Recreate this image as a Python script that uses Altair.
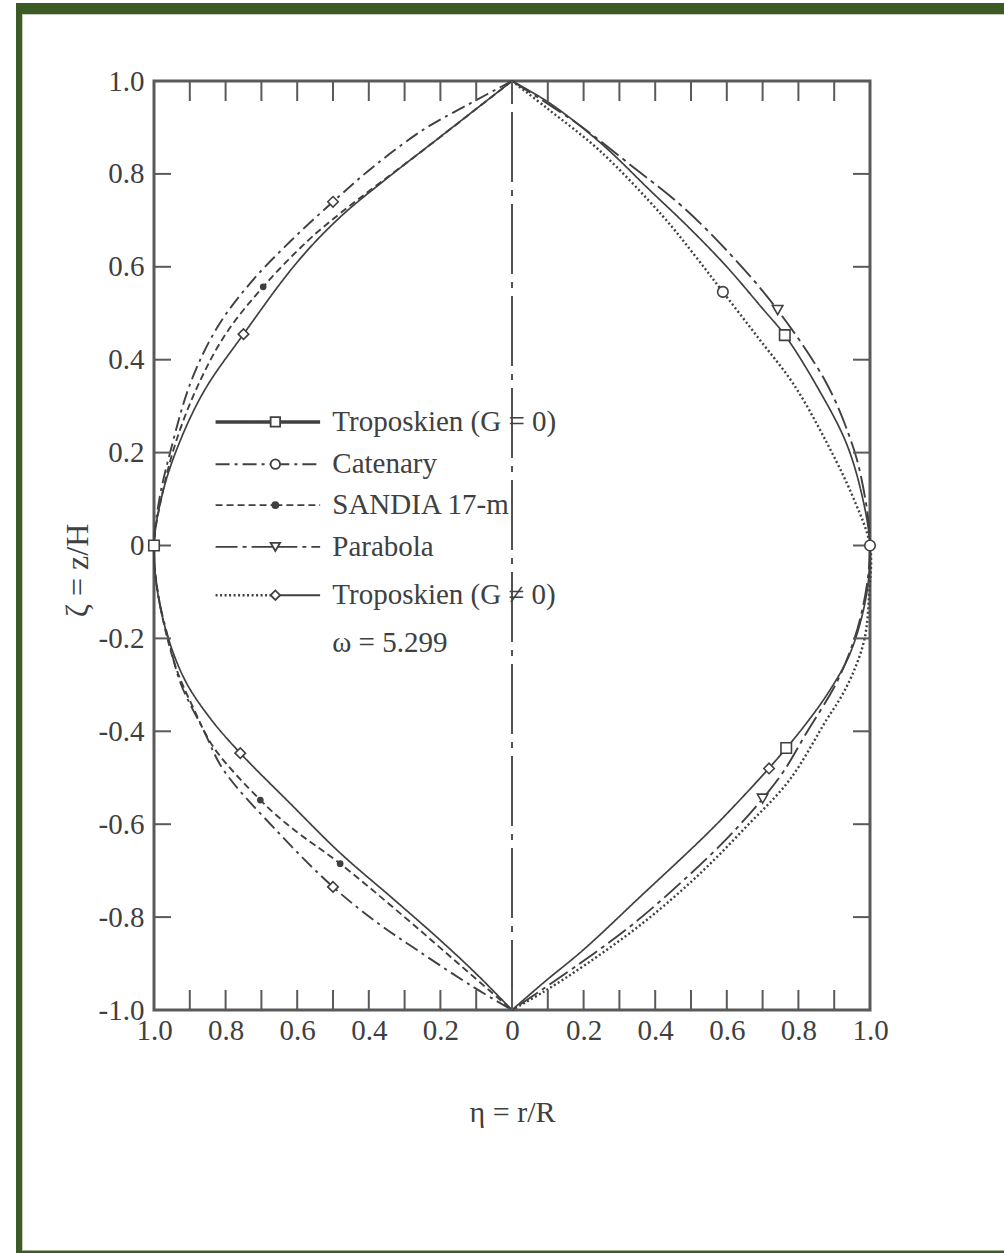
import altair as alt
import pandas as pd

FONT = "Liberation Serif"
INK = "#404040"
GREEN = "#3b5a24"

# ---------------- axis ticks / labels ----------------
x_label_values = [-1.0, -0.8, -0.6, -0.4, -0.2, 0.0, 0.2, 0.4, 0.6, 0.8, 1.0]
y_label_values = [-1.0, -0.8, -0.6, -0.4, -0.2, 0.0, 0.2, 0.4, 0.6, 0.8, 1.0]
x_minor_ticks = [-0.9, -0.8, -0.7, -0.6, -0.5, -0.4, -0.3, -0.2, -0.1, 0.0,
                 0.1, 0.2, 0.3, 0.4, 0.5, 0.6, 0.7, 0.8, 0.9]
y_side_ticks = [-0.8, -0.6, -0.4, -0.2, 0.0, 0.2, 0.4, 0.6, 0.8]

# ---------------- curves (eta signed: left half negative) ----------------
tropo0_left_eta = [0.0, -0.2, -0.35, -0.48, -0.6, -0.75, -0.862, -0.94, -0.98, -1.0,
                   -0.99, -0.96, -0.91, -0.84, -0.759, -0.62, -0.48, -0.33, -0.2, -0.1, 0.0]
tropo0_left_zeta = [1.0, 0.88, 0.79, 0.707, 0.61, 0.455, 0.33, 0.2, 0.1, 0.0,
                    -0.1, -0.2, -0.295, -0.375, -0.447, -0.555, -0.662, -0.762, -0.85, -0.922, -1.0]

tropo0_right_eta = [0.0, 0.106, 0.25, 0.385, 0.5, 0.6, 0.7, 0.762, 0.85, 0.934, 0.98, 1.0,
                    0.995, 0.975, 0.94, 0.885, 0.82, 0.74, 0.64, 0.543, 0.357, 0.2, 0.09, 0.0]
tropo0_right_zeta = [1.0, 0.952, 0.865, 0.765, 0.68, 0.6, 0.51, 0.453, 0.345, 0.22, 0.1, 0.0,
                     -0.08, -0.16, -0.24, -0.315, -0.385, -0.46, -0.545, -0.622, -0.757, -0.87, -0.94, -1.0]

catenary_left_eta = [0.0, -0.109, -0.248, -0.388, -0.5, -0.619, -0.731, -0.823, -0.898, -0.955,
                     -0.985, -1.0, -0.99, -0.96, -0.926, -0.86, -0.806, -0.65, -0.5, -0.38,
                     -0.265, -0.109, 0.0]
catenary_left_zeta = [1.0, 0.955, 0.895, 0.815, 0.74, 0.655, 0.565, 0.47, 0.35, 0.2,
                      0.1, 0.0, -0.1, -0.2, -0.296, -0.4, -0.483, -0.62, -0.735, -0.81,
                      -0.871, -0.95, -1.0]

sandia_left_eta = [0.0, -0.25, -0.48, -0.572, -0.695, -0.8, -0.88, -0.94, -0.98, -1.0,
                   -0.985, -0.94, -0.89, -0.834, -0.703, -0.619, -0.48, -0.3, -0.15, 0.0]
sandia_left_zeta = [1.0, 0.85, 0.715, 0.655, 0.557, 0.455, 0.34, 0.22, 0.1, 0.0,
                    -0.12, -0.26, -0.35, -0.434, -0.548, -0.606, -0.685, -0.8, -0.9, -1.0]

parabola_right_eta = [0.0, 0.181, 0.338, 0.477, 0.617, 0.742, 0.878, 0.943, 0.975, 1.0,
                      0.975, 0.915, 0.822, 0.748, 0.62, 0.48, 0.33, 0.18, 0.0]
parabola_right_zeta = [1.0, 0.909, 0.815, 0.729, 0.621, 0.507, 0.35, 0.234, 0.148, 0.0,
                       -0.15, -0.282, -0.404, -0.498, -0.615, -0.72, -0.82, -0.905, -1.0]

tropoG_right_eta = [0.0, 0.1, 0.245, 0.42, 0.51, 0.589, 0.69, 0.785, 0.87, 0.952, 1.0,
                    0.998, 0.985, 0.955, 0.92, 0.878, 0.775, 0.655, 0.52, 0.37, 0.21, 0.09, 0.0]
tropoG_right_zeta = [1.0, 0.94, 0.85, 0.71, 0.625, 0.546, 0.445, 0.349, 0.235, 0.105, 0.0,
                     -0.1, -0.2, -0.27, -0.325, -0.376, -0.505, -0.605, -0.71, -0.81, -0.9, -0.96, -1.0]

# ---------------- markers on curves ----------------
open_marker_eta = [-1.0, 1.0, -0.75, -0.5, 0.589, 0.742, 0.762, -0.759, -0.5, 0.766, 0.718, 0.70]
open_marker_zeta = [0.0, 0.0, 0.455, 0.74, 0.546, 0.507, 0.453, -0.447, -0.735, -0.436, -0.48, -0.545]
filled_marker_eta = [-0.695, -0.703, -0.48]
filled_marker_zeta = [0.557, -0.548, -0.685]

# ---------------- legend ----------------
legend_labels = ["Troposkien (G = 0)", "Catenary", "SANDIA 17-m", "Parabola", "Troposkien (G ≠ 0)"]
legend_zeta = [0.266, 0.175, 0.087, -0.003, -0.107]
note_label = "ω = 5.299"
note_zeta = -0.21

# ---------------- styles (kept separate from data) ----------------
STYLE = {
    "tropo0": dict(dash=[1, 0], width=1.7),
    "catenary": dict(dash=[14, 5, 3, 5], width=1.9),
    "sandia": dict(dash=[7, 4], width=1.9),
    "parabola": dict(dash=[22, 5, 4, 5], width=1.9),
    "tropoG": dict(dash=[2, 2.5], width=2.4),
    "solid": dict(dash=[1, 0], width=1.9),
}
OPEN_SHAPES = ["square", "circle", "diamond", "diamond", "circle", "triangle-down", "square",
               "diamond", "diamond", "square", "diamond", "triangle-down"]
LEGEND_KIND = ["tropo0", "catenary", "sandia", "parabola", "tropoG"]
LEGEND_MARK = ["square", "circle", "filled", "triangle-down", "diamond"]
LEG_X0, LEG_XM, LEG_X1, LEG_TX = -0.828, -0.661, -0.536, -0.502

# ---------------- build tables ----------------
curve_specs = [
    ("tropo0_left", "tropo0", tropo0_left_eta, tropo0_left_zeta),
    ("tropo0_right", "tropo0", tropo0_right_eta, tropo0_right_zeta),
    ("catenary_left", "catenary", catenary_left_eta, catenary_left_zeta),
    ("sandia_left", "sandia", sandia_left_eta, sandia_left_zeta),
    ("parabola_right", "parabola", parabola_right_eta, parabola_right_zeta),
    ("tropoG_right", "tropoG", tropoG_right_eta, tropoG_right_zeta),
]
rows = []
for name, kind, es, zs in curve_specs:
    for i, (e, z) in enumerate(zip(es, zs)):
        rows.append(dict(series=name, kind=kind, idx=i, eta=e, zeta=z))
curves = pd.DataFrame(rows)

open_markers = pd.DataFrame(dict(eta=open_marker_eta, zeta=open_marker_zeta, shape=OPEN_SHAPES))
filled_markers = pd.DataFrame(dict(eta=filled_marker_eta, zeta=filled_marker_zeta))

seg_rows = []
for lab, z, kind in zip(legend_labels, legend_zeta, LEGEND_KIND):
    right_kind = "solid" if kind == "tropoG" else kind
    seg_rows.append(dict(kind=kind, eta=LEG_X0, eta2=LEG_XM, zeta=z))
    seg_rows.append(dict(kind=right_kind, eta=LEG_XM, eta2=LEG_X1, zeta=z))
legend_segs = pd.DataFrame(seg_rows)

leg_marks = pd.DataFrame(dict(eta=[LEG_XM] * len(legend_zeta), zeta=legend_zeta, mark=LEGEND_MARK))
leg_text = pd.DataFrame(dict(eta=[LEG_TX] * (len(legend_labels) + 1),
                             zeta=legend_zeta + [note_zeta],
                             label=legend_labels + [note_label]))

# ---------------- scales / axes ----------------
xscale = alt.Scale(domain=[-1, 1], nice=False, zero=False)
yscale = alt.Scale(domain=[-1, 1], nice=False, zero=False)
xaxis = alt.Axis(values=x_label_values, domain=False, ticks=False, grid=False,
                 labelExpr="datum.value == 0 ? '0' : format(abs(datum.value), '.1f')",
                 labelPadding=6, labelFlush=False, labelOverlap=False,
                 title="η = r/R", titleX=358, titleY=102, titleBaseline="middle")
yaxis = alt.Axis(values=y_label_values, domain=False, ticks=False, grid=False,
                 labelExpr="datum.value == 0 ? '0' : (datum.value < 0 ? '-' : '') + format(abs(datum.value), '.1f')",
                 labelPadding=10, labelOverlap=False,
                 title="ζ = z/H", titleX=-77, titleY=489, titleBaseline="middle",
                 titleFontSize=32)


def X(field="eta"):
    return alt.X(f"{field}:Q", scale=xscale, axis=xaxis)


def Y(field="zeta"):
    return alt.Y(f"{field}:Q", scale=yscale, axis=yaxis)


layers = []

# frame (decoration around the scanned figure)
dummy = pd.DataFrame({"k": [0]})
frame_boxes = [
    (-138, 850, -78, -67, GREEN),
    (-138, -132, -78, 1172, GREEN),
    (-138, 850, 1169.5, 1172, GREEN),
    (-132, 850, -67, -66, "#c2cbbb"),
    (-132, -131, -67, 1169.5, "#c2cbbb"),
]
for x0, x1, y0, y1, col in frame_boxes:
    layers.append(alt.Chart(dummy).mark_rect(color=col).encode(
        x=alt.value(x0), x2=alt.value(x1), y=alt.value(y0), y2=alt.value(y1)))

# centre line
center = pd.DataFrame(dict(eta=[0.0], z0=[-1.0], z1=[1.0]))
layers.append(alt.Chart(center).mark_rule(color=INK, strokeWidth=1.8,
                                          strokeDash=[70, 8, 6, 8]).encode(
    x=X(), y=Y("z0"), y2="z1:Q"))

# curves
for kind in ["tropo0", "catenary", "sandia", "parabola", "tropoG"]:
    st = STYLE[kind]
    layers.append(alt.Chart(curves[curves.kind == kind]).mark_line(
        color=INK, strokeWidth=st["width"], strokeDash=st["dash"], strokeCap="butt",
        interpolate="catmull-rom").encode(
        x=X(), y=Y(), detail="series:N", order="idx:Q"))

# inward ticks
xt = pd.DataFrame(dict(eta=x_minor_ticks))
layers.append(alt.Chart(xt).mark_rule(color="#5a5a5a", strokeWidth=2).encode(
    x=X(), y=alt.value(0), y2=alt.value(20)))
layers.append(alt.Chart(xt).mark_rule(color="#5a5a5a", strokeWidth=2).encode(
    x=X(), y=alt.value(909), y2=alt.value(929)))
yt = pd.DataFrame(dict(zeta=y_side_ticks))
layers.append(alt.Chart(yt).mark_rule(color="#5a5a5a", strokeWidth=2).encode(
    y=Y(), x=alt.value(0), x2=alt.value(17)))
layers.append(alt.Chart(yt).mark_rule(color="#5a5a5a", strokeWidth=2).encode(
    y=Y(), x=alt.value(699), x2=alt.value(716)))

# legend line samples
for kind in ["tropo0", "catenary", "sandia", "parabola", "tropoG", "solid"]:
    st = STYLE[kind]
    sub = legend_segs[legend_segs.kind == kind]
    if len(sub) == 0:
        continue
    w = 3.6 if kind == "tropo0" else st["width"]
    layers.append(alt.Chart(sub).mark_rule(color=INK, strokeWidth=w,
                                           strokeDash=st["dash"], strokeCap="butt").encode(
        x=X(), x2="eta2:Q", y=Y()))

# markers on curves
layers.append(alt.Chart(open_markers).mark_point(
    filled=True, fill="white", stroke=INK, strokeWidth=1.6, size=110, opacity=1).encode(
    x=X(), y=Y(), shape=alt.Shape("shape:N", scale=None)))
layers.append(alt.Chart(filled_markers).mark_point(
    filled=True, color=INK, size=45, shape="circle", opacity=1).encode(x=X(), y=Y()))

# legend markers
lm_open = leg_marks[leg_marks["mark"] != "filled"]
lm_fill = leg_marks[leg_marks["mark"] == "filled"]
layers.append(alt.Chart(lm_open).mark_point(
    filled=True, fill="white", stroke=INK, strokeWidth=1.8, size=90, opacity=1).encode(
    x=X(), y=Y(), shape=alt.Shape("mark:N", scale=None)))
layers.append(alt.Chart(lm_fill).mark_point(
    filled=True, color=INK, size=60, shape="circle", opacity=1).encode(x=X(), y=Y()))

# legend text
layers.append(alt.Chart(leg_text).mark_text(
    align="left", baseline="middle", font=FONT, fontSize=29, color=INK).encode(
    x=X(), y=Y(), text="label:N"))

chart = alt.layer(*layers).properties(
    width=716, height=929,
    autosize=alt.AutoSizeParams(type="none"),
    padding={"left": 154, "top": 81, "right": 134, "bottom": 243},
    background="white",
).configure_view(
    stroke="#5a5a5a", strokeWidth=3
).configure_axis(
    labelFont=FONT, labelFontSize=29, labelColor=INK,
    titleFont=FONT, titleFontSize=30, titleFontWeight="normal", titleColor=INK,
)

chart.save("out.html", embed_options={"renderer": "svg", "actions": False})
